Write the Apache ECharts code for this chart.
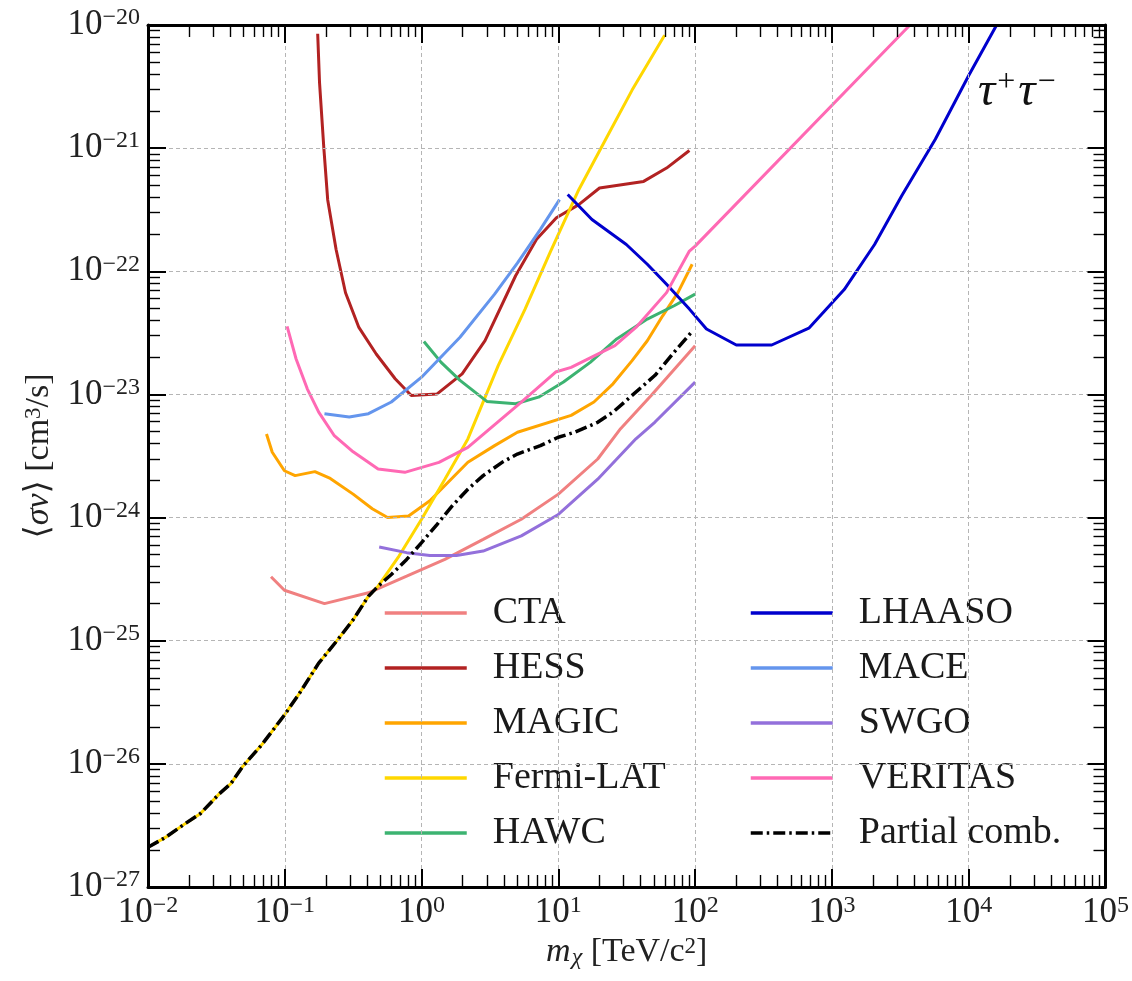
<!DOCTYPE html>
<html><head><meta charset="utf-8">
<script src="https://cdn.jsdelivr.net/npm/echarts@6/dist/echarts.min.js"></script>
<style>html,body{margin:0;padding:0;background:#fff}#c{width:1132px;height:981px}</style>
</head><body><div id="c"></div>
<script>
// ---------- data (m in TeV/c^2, <sigma v> in cm^3/s) ----------
const ctaM = [0.0793, 0.0994, 0.195, 0.409, 0.778, 1.48, 2.82, 5.36, 10, 19.4, 28.5, 47.7, 100];
const ctaS = [3.31e-25, 2.57e-25, 2.0e-25, 2.45e-25, 3.34e-25, 4.57e-25, 6.65e-25, 9.69e-25, 1.55e-24, 2.99e-24, 5.27e-24, 9.82e-24, 2.49e-23];

const hessM = [0.174, 0.1795, 0.193, 0.206, 0.237, 0.278, 0.348, 0.466, 0.641, 0.841, 1.30, 1.98, 2.91, 4.87, 6.93, 9.68, 14.1, 20.0, 42.0, 61.8, 90.8];
const hessS = [8.5e-21, 3.4e-21, 1.0e-21, 3.8e-22, 1.51e-22, 6.7e-23, 3.5e-23, 2.13e-23, 1.34e-23, 9.8e-24, 1.01e-23, 1.47e-23, 2.73e-23, 9.2e-23, 1.82e-22, 2.72e-22, 3.48e-22, 4.75e-22, 5.37e-22, 6.89e-22, 9.57e-22];

const magicM = [0.0735, 0.081, 0.0994, 0.119, 0.166, 0.215, 0.316, 0.436, 0.564, 0.803, 1.15, 2.18, 3.42, 5.02, 12.4, 18.2, 25.1, 34.6, 44.7, 57.9, 74.8, 95.1];
const magicS = [4.77e-24, 3.39e-24, 2.4e-24, 2.19e-24, 2.36e-24, 2.08e-24, 1.55e-24, 1.18e-24, 1.0e-24, 1.03e-24, 1.37e-24, 2.81e-24, 3.84e-24, 4.93e-24, 6.76e-24, 8.68e-24, 1.22e-23, 1.88e-23, 2.73e-23, 4.35e-23, 6.71e-23, 1.14e-22];

const fermiM = [0.01, 0.0135, 0.0187, 0.0241, 0.0333, 0.0404, 0.049, 0.0676, 0.0993, 0.128, 0.177, 0.244, 0.316, 0.409, 0.481, 0.684, 1.0, 1.48, 2.18, 3.64, 5.71, 8.69, 14.1, 22.1, 34.6, 59.8];
const fermiS = [2.1e-27, 2.54e-27, 3.27e-27, 3.94e-27, 5.73e-27, 6.92e-27, 9.46e-27, 1.42e-26, 2.49e-26, 3.74e-26, 6.57e-26, 1.02e-25, 1.48e-25, 2.30e-25, 2.77e-25, 4.87e-25, 9.7e-25, 2.05e-24, 4.35e-24, 1.72e-23, 4.93e-23, 1.42e-22, 4.6e-22, 1.17e-21, 2.96e-21, 8.24e-21];

const hawcM = [1.04, 1.39, 1.91, 3.0, 4.87, 7.16, 10.9, 17.1, 26.7, 44.7, 70.2, 100];
const hawcS = [2.69e-23, 1.82e-23, 1.30e-23, 8.78e-24, 8.4e-24, 9.5e-24, 1.26e-23, 1.82e-23, 2.82e-23, 4.09e-23, 5.25e-23, 6.52e-23];

const lhaasoM = [11.7, 17.6, 31.4, 44.7, 61.8, 90.8, 121, 200, 363, 678, 1230, 2050, 3230, 5700, 10000, 16000];
const lhaasoS = [4.2e-22, 2.63e-22, 1.65e-22, 1.14e-22, 7.85e-23, 4.93e-23, 3.4e-23, 2.52e-23, 2.52e-23, 3.45e-23, 7.1e-23, 1.65e-22, 4.08e-22, 1.18e-21, 3.89e-21, 1.0e-20];

const maceM = [0.195, 0.296, 0.409, 0.601, 1.0, 1.91, 3.42, 5.03, 7.39, 10.2];
const maceS = [6.98e-24, 6.56e-24, 6.98e-24, 8.68e-24, 1.38e-23, 2.91e-23, 6.52e-23, 1.17e-22, 2.19e-22, 3.82e-22];

const swgoM = [0.49, 0.778, 1.15, 1.80, 2.82, 5.36, 10, 19.4, 36.9, 50.9, 100];
const swgoS = [5.77e-25, 5.19e-25, 4.93e-25, 4.93e-25, 5.35e-25, 7.1e-25, 1.06e-24, 2.05e-24, 4.36e-24, 5.97e-24, 1.26e-23];

const veritasM = [0.104, 0.121, 0.146, 0.177, 0.229, 0.316, 0.481, 0.754, 1.34, 2.18, 5.36, 9.55, 12.4, 25.9, 36.9, 61.8, 90.8, 100, 3720];
const veritasS = [3.57e-23, 1.94e-23, 1.11e-23, 7.19e-24, 4.66e-24, 3.42e-24, 2.48e-24, 2.33e-24, 2.81e-24, 3.72e-24, 8.67e-24, 1.52e-23, 1.66e-23, 2.49e-23, 3.5e-23, 6.71e-23, 1.46e-22, 1.6e-22, 1.0e-20];

const combM = [0.01, 0.0135, 0.0187, 0.0241, 0.0333, 0.0404, 0.049, 0.0676, 0.0993, 0.128, 0.177, 0.244, 0.316, 0.409, 0.481, 0.601, 0.778, 1.0, 1.30, 1.68, 2.18, 2.82, 3.88, 5.02, 7.39, 9.98, 13.2, 19.4, 25.1, 34.6, 50.9, 70.2, 93.7];
const combS = [2.1e-27, 2.54e-27, 3.27e-27, 3.94e-27, 5.73e-27, 6.92e-27, 9.46e-27, 1.42e-26, 2.49e-26, 3.74e-26, 6.57e-26, 1.02e-25, 1.48e-25, 2.30e-25, 2.77e-25, 3.45e-25, 4.57e-25, 6.25e-25, 8.82e-25, 1.25e-24, 1.70e-24, 2.19e-24, 2.81e-24, 3.28e-24, 3.84e-24, 4.49e-24, 4.93e-24, 5.94e-24, 7.19e-24, 9.82e-24, 1.43e-23, 2.2e-23, 3.19e-23];

const seriesNames = ['CTA', 'HESS', 'MAGIC', 'Fermi-LAT', 'HAWC', 'LHAASO', 'MACE', 'SWGO', 'VERITAS', 'Partial comb.'];
const xMajor = [1e-2, 1e-1, 1, 10, 100, 1e3, 1e4, 1e5];
const yMajor = [1e-27, 1e-26, 1e-25, 1e-24, 1e-23, 1e-22, 1e-21, 1e-20];
const xMinorDecades = [-2, -1, 0, 1, 2, 3, 4];
const yMinorDecades = [-27, -26, -25, -24, -23, -22, -21];
const minorMult = [2, 3, 4, 5, 6, 7, 8, 9];

// ---------- build ----------
const FONT = '"Liberation Serif", "DejaVu Serif", serif';
const pairs = (a, b) => a.map((v, i) => [v, b[i]]);
const minorOf = decs => { const r = []; decs.forEach(k => minorMult.forEach(j => r.push(j * Math.pow(10, k)))); return r; };
const xMinor = minorOf(xMinorDecades);
const yMinor = minorOf(yMinorDecades);

const labelFmt = v => {
  const e = Math.round(Math.log10(v));
  return '{b|10}{s|' + (e < 0 ? '\u2212' : '') + Math.abs(e) + '}';
};
const labelRich = {
  b: { fontFamily: FONT, fontSize: 35, color: '#222', lineHeight: 38, verticalAlign: 'middle' },
  s: { fontFamily: FONT, fontSize: 24, color: '#222', lineHeight: 24, verticalAlign: 'top' }
};

function axis(dim, pos, opt) {
  const isX = dim === 'x';
  const base = {
    type: 'log', logBase: 10, gridIndex: 0,
    min: isX ? 1e-2 : 1e-27, max: isX ? 1e5 : 1e-20,
    position: pos,
    axisLine: { show: !!opt.line, onZero: false, lineStyle: { color: '#000', width: 3 } },
    axisTick: { show: true, inside: true, length: opt.tickLen, customValues: opt.ticks,
      lineStyle: { color: '#000', width: opt.tickW } },
    axisLabel: { show: false },
    splitLine: { show: false },
    minorTick: { show: false },
    z: 5
  };
  if (opt.labels) {
    base.axisLabel = { show: true, customValues: opt.ticks, formatter: labelFmt, rich: labelRich,
      margin: isX ? 7 : 8 };
    base.splitLine = { show: true, lineStyle: { color: '#b5b5b5', width: 1, type: [4, 3] } };
  }
  return Object.assign(base, opt.extra || {});
}

const xAxes = [
  axis('x', 'bottom', { line: true, tickLen: 18, tickW: 2, ticks: xMajor, labels: true, extra: {
    name: '{i|m}{sub|\u03c7} [TeV/c{s|2}]', nameLocation: 'middle', nameGap: 47,
    nameTextStyle: { fontFamily: FONT, fontSize: 34, color: '#222', rich: {
      i: { fontFamily: FONT, fontSize: 34, fontStyle: 'italic', color: '#222', verticalAlign: 'middle' },
      sub: { fontFamily: FONT, fontSize: 24, fontStyle: 'italic', color: '#222', verticalAlign: 'bottom', lineHeight: 24, padding: [0, 0, 0, 1] },
      s: { fontFamily: FONT, fontSize: 23, color: '#222', verticalAlign: 'top', lineHeight: 23 }
    } } } }),
  axis('x', 'top', { line: true, tickLen: 18, tickW: 2, ticks: xMajor }),
  axis('x', 'bottom', { tickLen: 12, tickW: 1.4, ticks: xMinor }),
  axis('x', 'top', { tickLen: 12, tickW: 1.4, ticks: xMinor })
];
const yAxes = [
  axis('y', 'left', { line: true, tickLen: 18, tickW: 2, ticks: yMajor, labels: true, extra: {
    name: '\u27e8{i|\u03c3v}\u27e9 [cm{s|3}/s]', nameLocation: 'middle', nameGap: 92, nameRotate: 90,
    nameTextStyle: { fontFamily: FONT, fontSize: 34, color: '#222', rich: {
      i: { fontFamily: FONT, fontSize: 34, fontStyle: 'italic', color: '#222', verticalAlign: 'middle' },
      s: { fontFamily: FONT, fontSize: 23, color: '#222', verticalAlign: 'top', lineHeight: 23 }
    } } } }),
  axis('y', 'right', { line: true, tickLen: 18, tickW: 2, ticks: yMajor }),
  axis('y', 'left', { tickLen: 12, tickW: 1.4, ticks: yMinor }),
  axis('y', 'right', { tickLen: 12, tickW: 1.4, ticks: yMinor })
];

const colors = {
  'CTA': '#F08080', 'HESS': '#B22222', 'MAGIC': '#FFA500', 'Fermi-LAT': '#FFD700', 'HAWC': '#3CB371',
  'LHAASO': '#0000CD', 'MACE': '#6495ED', 'SWGO': '#9370DB', 'VERITAS': '#FF69B4', 'Partial comb.': '#000000'
};
const dataByName = {
  'CTA': pairs(ctaM, ctaS), 'HESS': pairs(hessM, hessS), 'MAGIC': pairs(magicM, magicS),
  'Fermi-LAT': pairs(fermiM, fermiS), 'HAWC': pairs(hawcM, hawcS), 'LHAASO': pairs(lhaasoM, lhaasoS),
  'MACE': pairs(maceM, maceS), 'SWGO': pairs(swgoM, swgoS), 'VERITAS': pairs(veritasM, veritasS),
  'Partial comb.': pairs(combM, combS)
};

const series = seriesNames.map((n, i) => ({
  name: n, type: 'line', xAxisIndex: 0, yAxisIndex: 0,
  data: dataByName[n], symbol: 'none', showSymbol: false, clip: true,
  z: n === 'Partial comb.' ? 10 : 3,
  lineStyle: n === 'Partial comb.'
    ? { color: colors[n], width: 3.5, type: [12, 4, 2.5, 4] }
    : { color: colors[n], width: 3 },
  itemStyle: { color: colors[n] },
  emphasis: { disabled: true },
  animation: false
}));

const legendBase = {
  orient: 'vertical', itemWidth: 82, itemHeight: 14, itemGap: 15, top: 588,
  selectedMode: false,
  itemStyle: { opacity: 0 },
  lineStyle: { width: 3.5 },
  textStyle: { fontFamily: FONT, fontSize: 38, color: '#1a1a1a', lineHeight: 40, padding: [0, 0, 0, 21] }
};

const option = {
  animation: false,
  backgroundColor: '#fff',
  grid: { left: 148, right: 25, top: 25, bottom: 94, containLabel: false },
  title: {
    text: '{i|\u03c4}{s|+}{i|\u03c4}{s|\u2212}', left: 973, top: 62,
    textStyle: { fontWeight: 'normal', rich: {
      i: { fontFamily: FONT, fontSize: 48, fontStyle: 'italic', fontWeight: 'normal', color: '#111', lineHeight: 50, verticalAlign: 'middle' },
      s: { fontFamily: FONT, fontSize: 32, fontWeight: 'normal', color: '#111', lineHeight: 30, verticalAlign: 'top', padding: [0, 3, 0, 2] }
    } }
  },
  legend: [
    Object.assign({}, legendBase, { left: 378, data: seriesNames.slice(0, 5) }),
    Object.assign({}, legendBase, { left: 744, data: seriesNames.slice(5) })
  ],
  xAxis: xAxes,
  yAxis: yAxes,
  series: series
};

const chart = echarts.init(document.getElementById('c'), null, { renderer: 'canvas' });
chart.setOption(option);
</script>
</body></html>
